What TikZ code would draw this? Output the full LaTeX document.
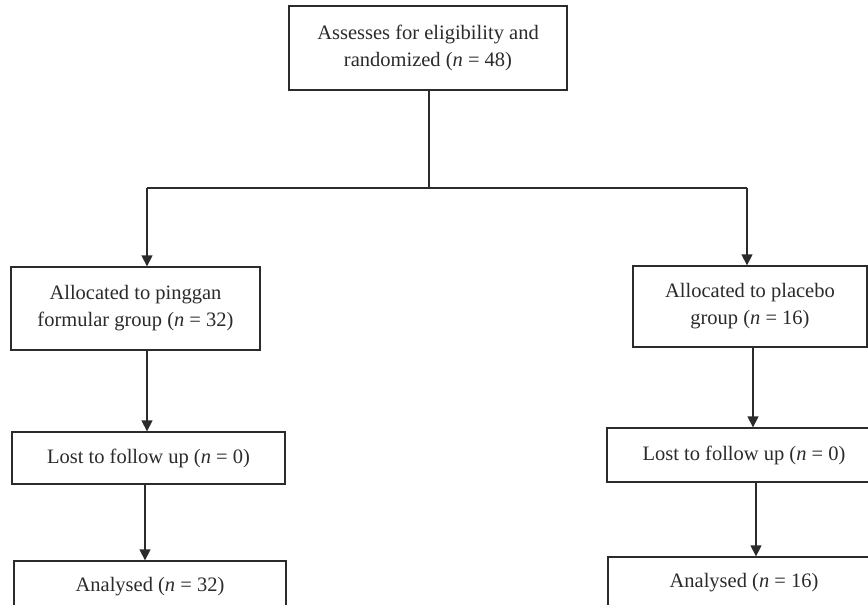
\documentclass[tikz,border=0pt]{standalone}
\usepackage{fontspec}
\setmainfont{Liberation Serif}
\usetikzlibrary{arrows.meta}
\definecolor{ink}{HTML}{2B2B2B}
\begin{document}
\begin{tikzpicture}[x=1pt,y=-1pt,
  box/.style={draw=ink, line width=1.3pt, rectangle, align=center, inner sep=0pt,
    text=ink, font=\fontsize{20.5}{27}\selectfont},
  link/.style={draw=ink, line width=1.3pt},
  arr/.style={link, -{Triangle[length=11pt,width=11pt]}}]
\useasboundingbox (0,0) rectangle (868,605);
\clip (0,0) rectangle (868,605);
\fill[white] (0,0) rectangle (868,605);
\node[box, minimum width=278pt, minimum height=84pt] (top) at (428,48)
  {Assesses for eligibility and\\randomized (\textit{n} = 48)};
\node[box, minimum width=249pt, minimum height=83pt] (la) at (135.5,308.5)
  {Allocated to pinggan\\formular group (\textit{n} = 32)};
\node[box, minimum width=234pt, minimum height=81pt] (ra) at (750,306.5)
  {Allocated to placebo\\group (\textit{n} = 16)};
\node[box, minimum width=273pt, minimum height=52pt] (ll) at (148.5,458)
  {Lost to follow up (\textit{n} = 0)};
\node[box, minimum width=274pt, minimum height=54pt] (rl) at (744,455)
  {Lost to follow up (\textit{n} = 0)};
\node[box, minimum width=272pt, minimum height=52pt] (lan) at (150,587)
  {\raisebox{5pt}{Analysed (\textit{n} = 32)}};
\node[box, minimum width=272pt, minimum height=52pt] (ran) at (744,583)
  {\raisebox{4pt}{Analysed (\textit{n} = 16)}};
\coordinate (j) at (429,188);
\coordinate (jl) at (147,188);
\coordinate (jr) at (747,188);
\draw[link] (top.south -| j) -- (j);
\draw[link] (jl) -- (jr);
\draw[arr] (jl) -- (jl |- la.north);
\draw[arr] (jr) -- (jr |- ra.north);
\draw[arr] (la.south -| jl) -- (ll.north -| jl);
\draw[arr] ([xshift=-3.5pt]ll.south) -- ([xshift=-3.5pt]ll.south |- lan.north);
\draw[arr] ([xshift=3pt]ra.south) -- ([xshift=3pt]ra.south |- rl.north);
\draw[arr] ([xshift=12pt]rl.south) -- ([xshift=12pt]rl.south |- ran.north);
\end{tikzpicture}
\end{document}
